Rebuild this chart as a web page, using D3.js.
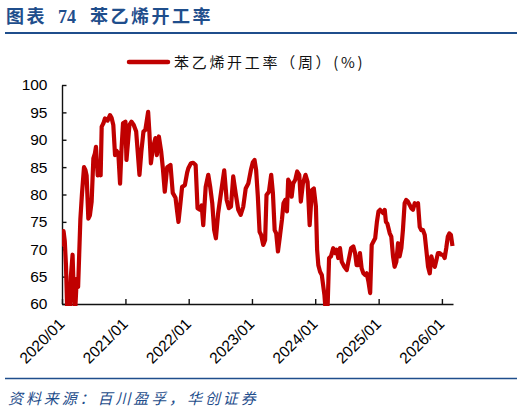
<!DOCTYPE html>
<html>
<head>
<meta charset="utf-8">
<script src="https://cdn.jsdelivr.net/npm/d3@7"></script>
<style>
  body { margin: 0; background: #fff; }
  svg { display: block; }
</style>
</head>
<body>
<svg id="ratechart"></svg>
<script>

// weekly styrene operating rate
var weekDates = [
  "2020-01-03", "2020-01-10", "2020-01-17", "2020-01-24", "2020-01-31", "2020-02-07", "2020-02-14", "2020-02-21",
  "2020-03-02", "2020-03-09", "2020-03-16", "2020-03-26", "2020-04-03", "2020-04-16", "2020-04-25", "2020-05-07",
  "2020-05-15", "2020-05-22", "2020-06-01", "2020-06-10", "2020-06-20", "2020-06-30", "2020-07-09", "2020-07-15",
  "2020-07-25", "2020-08-01", "2020-08-11", "2020-08-17", "2020-08-27", "2020-09-05", "2020-09-20", "2020-10-04",
  "2020-10-13", "2020-10-23", "2020-11-02", "2020-11-10", "2020-11-21", "2020-12-01", "2020-12-09", "2020-12-18",
  "2021-01-01", "2021-01-07", "2021-01-24", "2021-02-05", "2021-02-18", "2021-03-04", "2021-03-23", "2021-04-03",
  "2021-04-15", "2021-04-26", "2021-05-12", "2021-05-19", "2021-05-28", "2021-06-08", "2021-06-23", "2021-07-01",
  "2021-07-13", "2021-07-26", "2021-08-05", "2021-08-16", "2021-08-30", "2021-09-18", "2021-10-01", "2021-10-17",
  "2021-10-26", "2021-11-03", "2021-11-13", "2021-11-24", "2021-12-10", "2021-12-23", "2021-12-30",
  "2022-01-14", "2022-01-27", "2022-02-10", "2022-02-21", "2022-03-07", "2022-03-17", "2022-03-26", "2022-04-09",
  "2022-04-24", "2022-05-05", "2022-05-17", "2022-05-28", "2022-06-07", "2022-06-20", "2022-07-06", "2022-07-25",
  "2022-08-08", "2022-08-21", "2022-09-02", "2022-09-15", "2022-09-29", "2022-10-14", "2022-10-28", "2022-11-12",
  "2022-11-26", "2022-12-11", "2022-12-26",
  "2023-01-06", "2023-01-16", "2023-01-25", "2023-02-04", "2023-02-14", "2023-02-23", "2023-03-07", "2023-03-18",
  "2023-03-26", "2023-04-09", "2023-04-22", "2023-05-02", "2023-05-12", "2023-05-21", "2023-05-31", "2023-06-11",
  "2023-06-23", "2023-07-02", "2023-07-12", "2023-07-22", "2023-07-29", "2023-08-10", "2023-08-18", "2023-08-27",
  "2023-09-08", "2023-09-19", "2023-10-01", "2023-10-10", "2023-10-22", "2023-11-06", "2023-11-18", "2023-11-30",
  "2023-12-13", "2023-12-24",
  "2024-01-05", "2024-01-12", "2024-01-19", "2024-01-29", "2024-02-08", "2024-02-23", "2024-03-03", "2024-03-13",
  "2024-03-21", "2024-04-01", "2024-04-14", "2024-04-24", "2024-05-04", "2024-05-13", "2024-05-23", "2024-06-02",
  "2024-06-17", "2024-07-01", "2024-07-10", "2024-07-26", "2024-08-08", "2024-08-18", "2024-08-27", "2024-09-06",
  "2024-09-15", "2024-09-25", "2024-10-05", "2024-10-15", "2024-10-24", "2024-11-03", "2024-11-13", "2024-11-22",
  "2024-12-02", "2024-12-12", "2024-12-22", "2024-12-31",
  "2025-01-09", "2025-01-18", "2025-01-28", "2025-02-05", "2025-02-12", "2025-02-20", "2025-03-06", "2025-03-15",
  "2025-03-25", "2025-04-03", "2025-04-13", "2025-04-23", "2025-05-02", "2025-05-12", "2025-05-21", "2025-05-31",
  "2025-06-09", "2025-06-19", "2025-06-29", "2025-07-08", "2025-07-18", "2025-07-28", "2025-08-06", "2025-08-16",
  "2025-08-26", "2025-09-04", "2025-09-14", "2025-09-24", "2025-10-03", "2025-10-13", "2025-10-23", "2025-11-01",
  "2025-11-11", "2025-11-21", "2025-11-30", "2025-12-09", "2025-12-19", "2025-12-29",
  "2026-01-07", "2026-01-17", "2026-01-26", "2026-02-04", "2026-02-13", "2026-02-22", "2026-03-03"
];

var rateValues = [
  70.5, 73.3, 71.5, 67.0, 59.0, 56.0, 58.0, 65.0,
  69.0, 62.0, 58.0, 64.6, 63.1, 75.5, 80.0, 85.0,
  84.5, 83.5, 75.6, 76.2, 78.7, 86.6, 87.5, 88.7,
  83.5, 84.0, 83.5, 92.4, 93.0, 93.9, 93.5, 94.5,
  94.0, 92.7, 87.2, 88.0, 87.5, 82.0, 88.0, 93.0,
  93.3, 86.3, 92.7, 93.3, 92.7, 91.5, 83.6, 87.9,
  91.5, 91.8, 95.1, 91.5, 85.7, 88.4, 90.3, 87.2,
  90.6, 87.9, 84.8, 80.5, 85.0, 85.4, 80.3, 79.4,
  77.0, 75.0, 78.0, 81.4, 81.7, 84.0, 84.8,
  85.7, 85.8, 85.4, 77.5, 77.2, 78.0, 74.4, 81.4,
  83.6, 81.4, 78.4, 73.5, 72.0, 76.6, 80.2, 84.4,
  79.0, 77.5, 77.8, 83.3, 80.2, 77.2, 76.3, 77.8,
  81.1, 82.0, 84.5,
  85.9, 86.3, 84.5, 79.6, 73.2, 72.6, 70.8, 71.7,
  79.9, 80.5, 83.6, 80.2, 73.5, 72.9, 69.6, 72.3,
  75.4, 78.4, 79.0, 76.9, 82.7, 82.0, 79.6, 82.0,
  82.7, 84.2, 83.6, 78.7, 82.0, 83.6, 82.3, 74.4,
  80.8, 81.1,
  77.8, 69.9, 67.1, 65.9, 65.3, 61.7, 58.0, 60.0,
  68.4, 68.7, 70.2, 69.3, 69.9, 68.4, 70.2, 67.7,
  66.8, 66.2, 67.7, 70.2, 70.5, 69.3, 67.1, 67.1,
  69.3, 66.5, 65.6, 65.3, 65.6, 64.1, 62.0, 70.8,
  71.4, 72.0, 75.0, 76.9,
  77.2, 76.9, 76.6, 77.2, 75.0, 74.7, 72.9, 72.3,
  68.7, 66.8, 67.7, 71.1, 68.7, 70.2, 73.5, 78.4,
  79.0, 78.7, 78.1, 77.5, 77.2, 78.4, 78.1, 78.4,
  74.1, 73.5, 73.5, 72.6, 69.9, 66.8, 65.6, 68.7,
  67.4, 66.8, 68.0, 69.3, 69.3, 69.0,
  69.0, 68.4, 70.2, 72.3, 72.9, 72.6, 70.6
];

var yearTicks = ["2020/01", "2021/01", "2022/01", "2023/01", "2024/01", "2025/01", "2026/01"];
var valueTicks = [60, 65, 70, 75, 80, 85, 90, 95, 100];
var axisStart = "2020-01-01", axisEnd = "2026-03-06";

var seriesName = "苯乙烯开工率（周）(%)";
var titleLabel = "图表", titleNumber = "74", titleText = "苯乙烯开工率";
var sourceText = "资料来源：百川盈孚，华创证券";

var width = 524, height = 413;
var plot = { left: 62, right: 453, top: 85, bottom: 304 };
var blue = "#1f4e8c", red = "#c00000";
var cjkFont = "'Noto Sans CJK SC', 'Noto Sans', sans-serif";
var numFont = "'Liberation Sans', Arial, sans-serif";

var svg;

document.addEventListener('DOMContentLoaded', function () {
  svg = d3.select('#ratechart')
    .attr("width", width)
    .attr("height", height);
  drawFrame();
  drawRateChart();
});

// title, rules, legend, source
function drawFrame() {
  var title = svg.append("text")
    .attr("y", 23)
    .attr("fill", blue)
    .attr("font-weight", "bold")
    .attr("font-size", 18);
  title.append("tspan").attr("x", 6).attr("font-family", cjkFont)
    .attr("letter-spacing", 2.5).text(titleLabel);
  title.append("tspan").attr("x", 58).attr("font-family", "'Liberation Serif', serif")
    .text(titleNumber);
  title.append("tspan").attr("x", 90).attr("font-family", cjkFont)
    .attr("letter-spacing", 2.5).text(titleText);

  svg.append("line")
    .attr("x1", 5).attr("x2", 517).attr("y1", 33).attr("y2", 33)
    .attr("stroke", blue).attr("stroke-width", 1.8);

  svg.append("line")
    .attr("x1", 5).attr("x2", 517).attr("y1", 378.5).attr("y2", 378.5)
    .attr("stroke", blue).attr("stroke-width", 1.5);

  svg.append("text")
    .attr("x", 8).attr("y", 404)
    .attr("fill", blue)
    .attr("font-family", cjkFont)
    .attr("font-style", "italic")
    .attr("font-size", 15)
    .attr("letter-spacing", 2.9)
    .text(sourceText);

  // legend
  svg.append("line")
    .attr("x1", 129).attr("x2", 168).attr("y1", 62).attr("y2", 62)
    .attr("stroke", red).attr("stroke-width", 4.5)
    .attr("stroke-linecap", "round");
  svg.append("text")
    .attr("x", 174).attr("y", 67.5)
    .attr("font-family", cjkFont)
    .attr("font-size", 15)
    .attr("letter-spacing", 2.7)
    .attr("fill", "#111")
    .text(seriesName);
}

function drawRateChart() {
  var parseDay = d3.timeParse("%Y-%m-%d");
  var parseMonth = d3.timeParse("%Y/%m");

  var x = d3.scaleTime()
    .domain([parseDay(axisStart), parseDay(axisEnd)])
    .range([plot.left, plot.right]);
  var y = d3.scaleLinear()
    .domain([60, 100])
    .range([plot.bottom, plot.top]);

  var data = weekDates.map(function (d, i) {
    return { date: parseDay(d), value: rateValues[i] };
  });

  // x axis, ticks pointing inward
  var xAxis = svg.append("g")
    .attr("transform", "translate(0," + plot.bottom + ")")
    .call(d3.axisBottom(x)
      .tickValues(yearTicks.map(parseMonth))
      .tickFormat(d3.timeFormat("%Y/%m"))
      .tickSizeInner(-5)
      .tickSizeOuter(0));
  xAxis.selectAll("text")
    .attr("x", 0).attr("y", 0).attr("dy", 0)
    .attr("text-anchor", "end")
    .attr("transform", "translate(3,21) rotate(-45)");

  var yAxis = svg.append("g")
    .attr("transform", "translate(" + plot.left + ",0)")
    .call(d3.axisLeft(y)
      .tickValues(valueTicks)
      .tickSizeInner(-4.5)
      .tickSizeOuter(0)
      .tickPadding(14.5));

  svg.selectAll(".domain, .tick line")
    .attr("stroke", "#111")
    .attr("stroke-width", 1.4);
  svg.selectAll(".tick text")
    .attr("font-family", numFont)
    .attr("font-size", 15.5)
    .attr("fill", "#000");

  // plot area clip, values under 60 get cut at the axis
  svg.append("clipPath")
    .attr("id", "plotclip")
    .append("rect")
    .attr("x", plot.left)
    .attr("y", plot.top - 4)
    .attr("width", plot.right - plot.left + 4)
    .attr("height", plot.bottom - plot.top + 6);

  svg.append("path")
    .datum(data)
    .attr("clip-path", "url(#plotclip)")
    .attr("fill", "none")
    .attr("stroke", red)
    .attr("stroke-width", 4.2)
    .attr("stroke-linejoin", "round")
    .attr("d", d3.line()
      .x(function (d) { return x(d.date); })
      .y(function (d) { return y(d.value); })
    );
}

</script>
</body>
</html>
